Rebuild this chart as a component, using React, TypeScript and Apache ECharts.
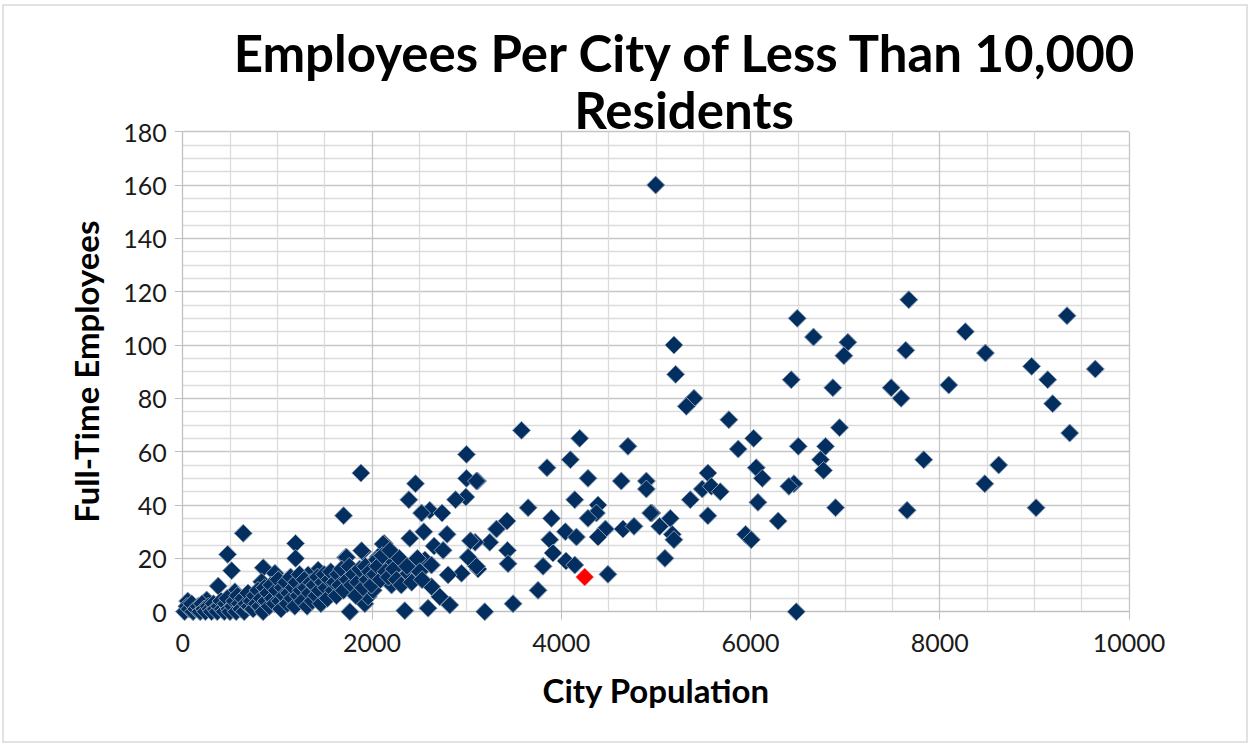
import React, { useEffect, useRef } from "react";
import * as echarts from "echarts";

const titleLines = ["Employees Per City of Less Than 10,000", "Residents"];
const xAxisName = "City Population";
const yAxisName = "Full-Time Employees";

// [population, full-time employees]
const cities: number[][] = [
  [4998, 160], [9644, 91], [7673, 117], [8271, 105], [7641, 98], [8483, 97], [9345, 111], [8971, 92],
  [9141, 87], [7487, 84], [7592, 80], [8095, 85], [9193, 78], [9373, 67], [7831, 57], [8623, 55],
  [8476, 48], [7655, 38], [9018, 39],
  [6494, 110], [6666, 103], [7029, 101], [6987, 96], [5191, 100], [5209, 89], [6431, 87], [6871, 84],
  [5403, 80], [5322, 77], [5772, 72], [6941, 69], [6033, 65], [5871, 61], [6505, 62], [6793, 62],
  [6740, 57], [6772, 53], [4900, 49], [4900, 46], [5550, 52], [5491, 46], [5586, 47], [5681, 45],
  [6061, 54], [6125, 50], [6459, 48], [6406, 47], [5364, 42], [6079, 41], [6899, 39], [4959, 37],
  [5153, 35], [5550, 36], [6293, 34], [5040, 32], [5174, 29], [5191, 27], [5948, 29], [6008, 27],
  [5096, 20], [6484, 0],
  [3580, 68], [4195, 65], [4705, 62], [4097, 57], [3850, 54], [4283, 50], [4635, 49], [3115, 49],
  [4143, 42], [3650, 39], [4389, 40], [4372, 37], [3897, 35], [4283, 35], [4467, 31], [4653, 31],
  [4769, 32], [4389, 28], [4945, 37], [3428, 34], [3316, 31], [3245, 26], [3432, 23], [3438, 18],
  [4044, 30], [4161, 28], [3879, 27], [3913, 22], [4051, 19], [4143, 17.5], [3808, 17], [4494, 14],
  [3755, 8], [3491, 3], [3192, 0], [3121, 16], [3090, 26],
  [2999, 59], [1883, 52], [2999, 50], [3105, 49], [2460, 48], [2390, 42], [2992, 43], [2883, 42],
  [2611, 38], [2524, 37], [2741, 37], [1700, 36], [2400, 27.5], [2548, 30], [2794, 29], [3041, 26.6],
  [2657, 24.6], [2129, 25.6], [2752, 23], [1901, 22.5], [1721, 20.4], [3016, 20.4], [2066, 20.6],
  [2207, 18.7], [3105, 17], [2559, 19.4], [2629, 17.5], [2946, 14.4], [2805, 13.8], [2453, 15],
  [2347, 13], [2207, 10], [2629, 9.4], [2717, 5.6], [2822, 2.5], [2593, 1.3], [2347, 0.4], [1767, 0],
  [1925, 3], [1960, 5.6], [2013, 8], [1890, 13], [1714, 14.4], [1573, 13],
  [640, 29.4], [475, 21.5], [517, 15.4], [1193, 25.6], [1193, 20], [851, 16.5], [376, 9.6], [552, 7.5],
  [53, 4], [253, 4.4], [975, 14.4], [834, 11.2], [1432, 15.6], [1326, 13.8], [2118, 25.4], [1890, 22.9],
  [1732, 20.4], [2048, 19.4],
  [20, 0], [45, 2], [70, 1], [95, 3], [110, 0], [140, 1], [165, 2], [185, 0], [205, 3], [225, 1],
  [240, 0], [270, 2], [290, 1], [305, 0], [325, 3], [345, 1], [365, 0], [385, 2], [405, 4], [420, 1],
  [440, 0], [455, 3], [470, 5], [490, 1], [500, 0],
  [530, 2], [545, 4], [565, 0], [580, 6], [600, 3], [615, 1], [635, 5], [650, 0], [670, 3], [690, 7],
  [705, 2], [725, 4], [745, 1], [760, 6], [780, 3], [795, 8], [815, 2], [830, 5], [850, 0], [865, 9],
  [880, 4], [900, 7], [915, 2], [935, 10], [950, 5], [970, 3], [990, 8],
  [1010, 12], [1025, 4], [1040, 1], [1055, 9], [1070, 6], [1090, 11], [1105, 3], [1120, 7], [1140, 13],
  [1155, 5], [1170, 9], [1185, 2], [1200, 11], [1220, 6], [1235, 14], [1250, 8], [1265, 4], [1285, 12],
  [1300, 9], [1315, 2], [1340, 7], [1355, 11], [1370, 4], [1390, 10], [1410, 6], [1425, 13], [1445, 8],
  [1460, 3], [1480, 11], [1495, 14],
  [1515, 9], [1530, 5], [1550, 12], [1565, 15], [1590, 8], [1605, 11], [1625, 6], [1640, 14], [1660, 10],
  [1680, 16], [1700, 8], [1740, 12], [1760, 17], [1785, 10], [1805, 14], [1830, 6], [1850, 11], [1870, 16],
  [1905, 9], [1930, 17], [1950, 12], [1975, 15], [1995, 10],
  [2030, 14], [2060, 17], [2090, 12], [2110, 21], [2145, 15], [2175, 13], [2190, 23], [2230, 16],
  [2260, 12], [2290, 20], [2310, 10], [2370, 17], [2420, 11], [2480, 20], [2505, 15], [2530, 12],
];

const highlighted: number[][] = [[4248, 13]];

const xMin = 0, xMax = 10000, xStep = 2000;
const yMin = 0, yMax = 180, yStep = 20;

export default function App() {
  const ref = useRef<HTMLDivElement>(null);
  useEffect(() => {
    if (!ref.current) return;
    const chart = echarts.init(ref.current, undefined, { renderer: "svg" });
    const font = "Lato, 'Open Sans', sans-serif";
    const titleStyle = {
      fontFamily: font,
      fontWeight: "bold",
      fontSize: 51,
      fill: "#000",
      textAlign: "center",
      textVerticalAlign: "middle",
    };
    chart.setOption({
      animation: false,
      backgroundColor: "#ffffff",
      textStyle: { fontFamily: font },
      graphic: [
        {
          type: "rect",
          shape: { x: 3, y: 5, width: 1244, height: 737 },
          style: { fill: "none", stroke: "#d9d9d9", lineWidth: 1.5 },
          z: -10,
        },
        { type: "text", x: 684, y: 52, style: { ...titleStyle, text: titleLines[0] } },
        { type: "text", x: 684, y: 109, style: { ...titleStyle, text: titleLines[1] } },
      ],
      grid: { left: 182.7, right: 124, top: 131.7, bottom: 135.3, containLabel: false },
      xAxis: {
        type: "value",
        min: xMin,
        max: xMax,
        interval: xStep,
        name: xAxisName,
        nameLocation: "middle",
        nameGap: 62,
        nameTextStyle: { fontFamily: font, fontWeight: "bold", fontSize: 33, color: "#000" },
        axisLine: { show: true, lineStyle: { color: "#bfbfbf", width: 1 } },
        axisTick: { show: true, length: 8, lineStyle: { color: "#bfbfbf" } },
        axisLabel: {
          fontFamily: font,
          fontSize: 25,
          color: "#1a1a1a",
          margin: 18,
          formatter: (v: number) => String(v),
        },
        splitLine: { show: true, lineStyle: { color: "#c6c6c6", width: 1.3 } },
        minorTick: { show: false, splitNumber: 4 },
        minorSplitLine: { show: true, lineStyle: { color: "#dcdcdc", width: 1.3 } },
      },
      yAxis: {
        type: "value",
        min: yMin,
        max: yMax,
        interval: yStep,
        name: yAxisName,
        nameLocation: "middle",
        nameGap: 80,
        nameRotate: 90,
        nameTextStyle: { fontFamily: font, fontWeight: "bold", fontSize: 33, color: "#000" },
        axisLine: { show: true, lineStyle: { color: "#bfbfbf", width: 1 } },
        axisTick: { show: true, length: 8, lineStyle: { color: "#bfbfbf" } },
        axisLabel: {
          fontFamily: font,
          fontSize: 25,
          color: "#1a1a1a",
          margin: 16,
          formatter: (v: number) => String(v),
        },
        splitLine: { show: true, lineStyle: { color: "#c6c6c6", width: 1.3 } },
        minorTick: { show: false, splitNumber: 4 },
        minorSplitLine: { show: true, lineStyle: { color: "#dcdcdc", width: 1.3 } },
      },
      series: [
        {
          type: "scatter",
          data: cities,
          symbol: "diamond",
          symbolSize: 18,
          itemStyle: { color: "#032f60", borderColor: "#8a9ab0", borderWidth: 1, opacity: 1 },
          z: 2,
        },
        {
          type: "scatter",
          data: highlighted,
          symbol: "diamond",
          symbolSize: 18,
          itemStyle: { color: "#ff0000", borderColor: "#e0a0a0", borderWidth: 0.5, opacity: 1 },
          z: 3,
        },
      ],
    });
    return () => chart.dispose();
  }, []);
  return (
    <div
      ref={ref}
      style={{ position: "fixed", left: 0, top: 0, width: 1253, height: 747 }}
    />
  );
}
